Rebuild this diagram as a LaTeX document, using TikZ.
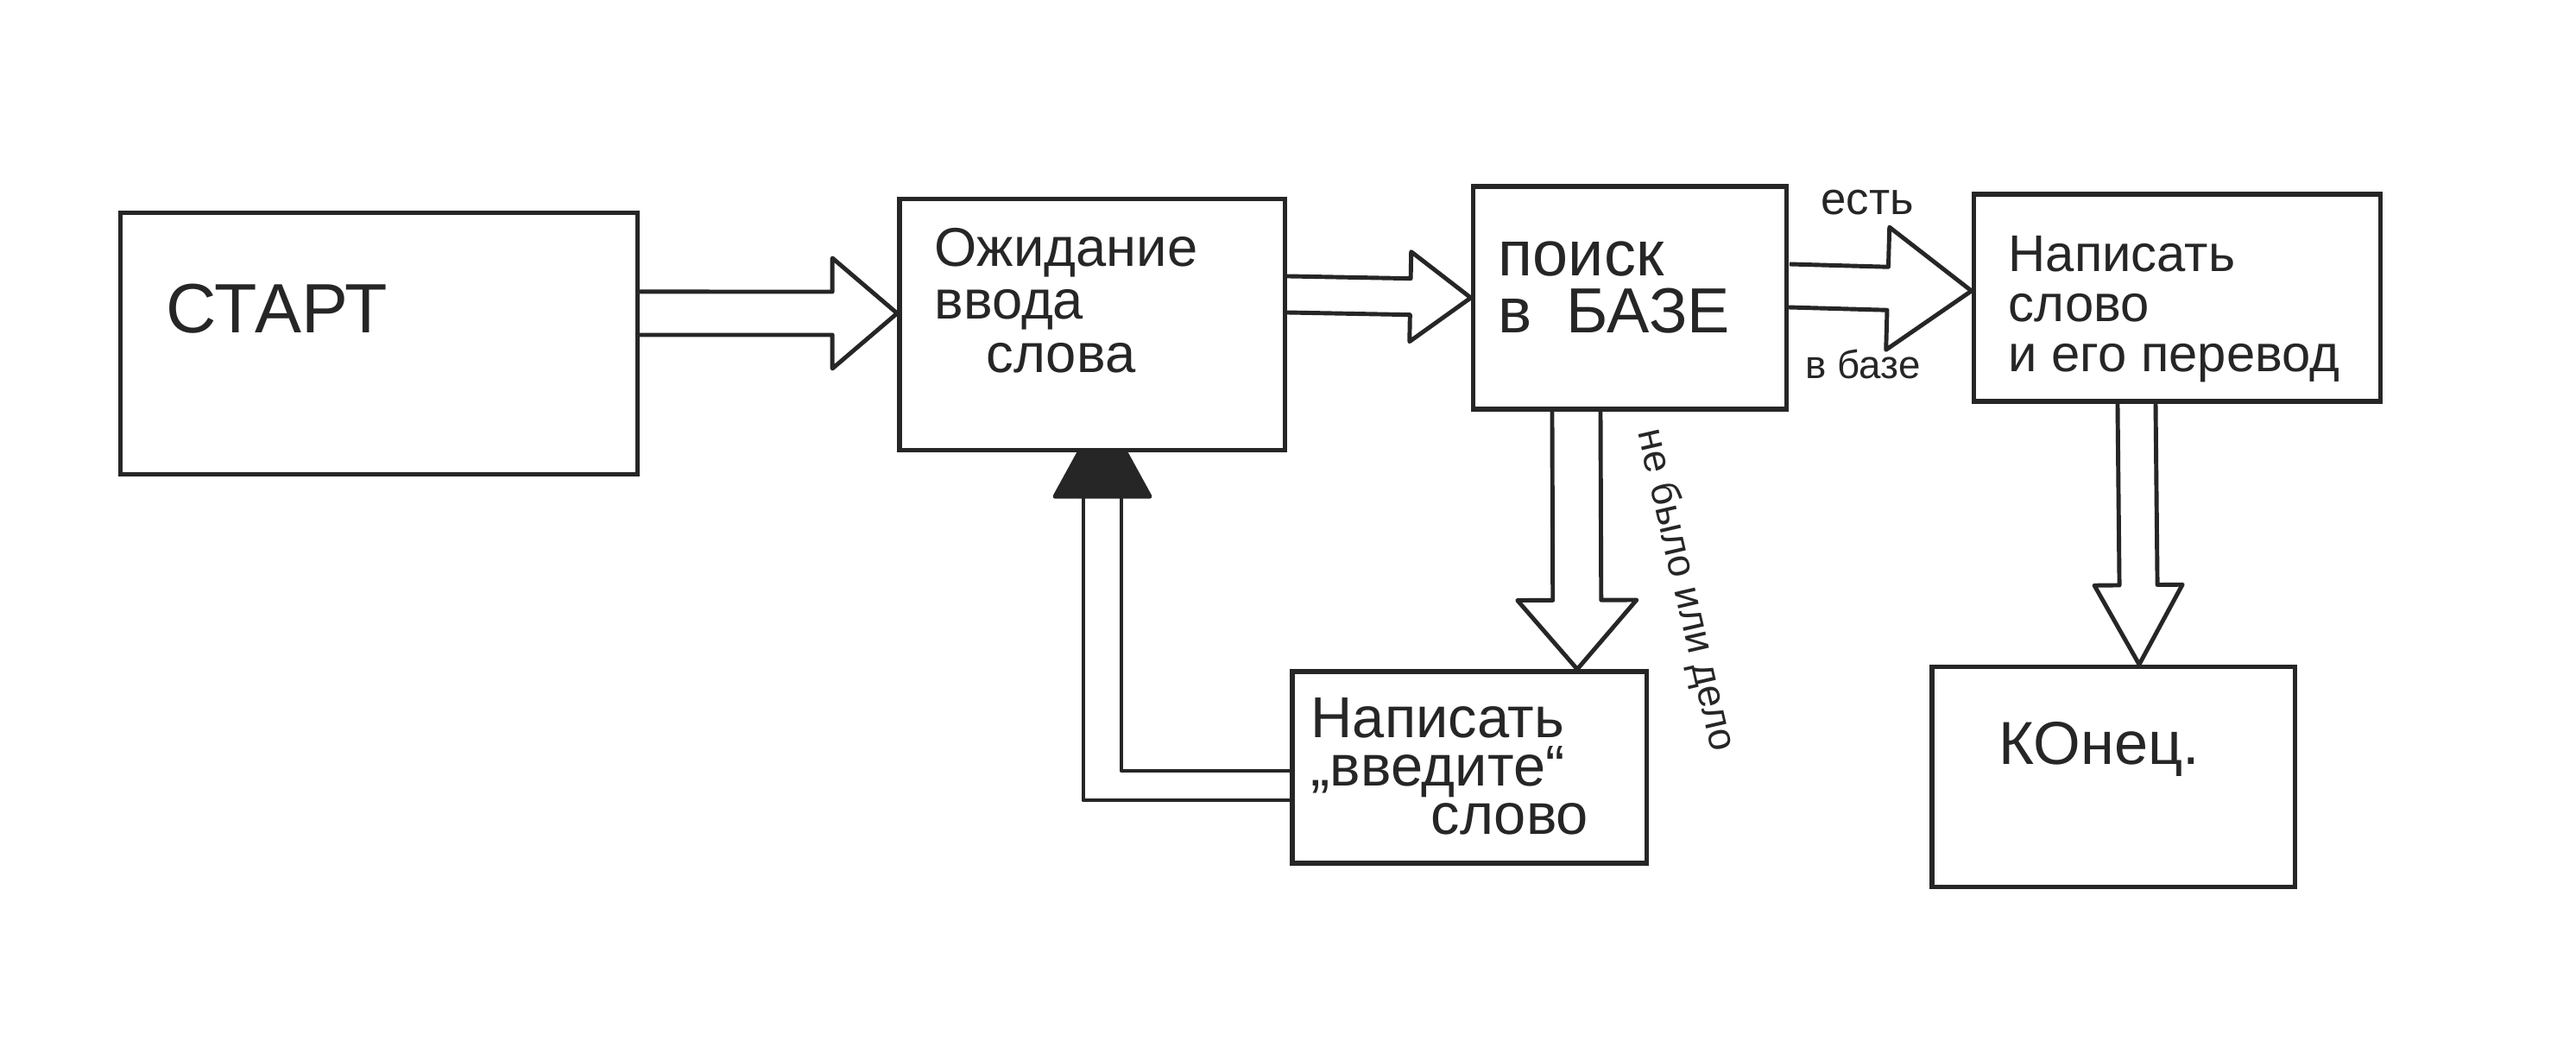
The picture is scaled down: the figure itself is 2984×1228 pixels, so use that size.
\documentclass[tikz,border=0pt]{standalone}
\usepackage{fontspec}
\setmainfont{Liberation Sans}
\usetikzlibrary{calc,positioning}
\definecolor{ink}{HTML}{262626}

% hollow block arrow: from, to, shaft half width, head half width, head length
\newcommand{\fatarrow}[5]{%
  \coordinate (fabase) at ($(#2)!#5!(#1)$);
  \draw[fatline] ($(#1)!#3!90:(#2)$) -- ($(fabase)!#3!-90:(#1)$) -- ($(fabase)!#4!-90:(#1)$) -- (#2)
    -- ($(fabase)!#4!90:(#1)$) -- ($(fabase)!#3!90:(#1)$) -- ($(#1)!#3!-90:(#2)$);
}

\begin{document}
\begin{tikzpicture}[x=0.01cm, y=-0.01cm,
    box/.style={draw=ink, line width=1.5pt, inner sep=0pt},
    hand/.style={text=ink, align=left, inner sep=0pt},
    fatline/.style={draw=ink, line width=1.4pt, line join=round}]
  \fill[white] (0,0) rectangle (2984,1228);
  \useasboundingbox (0,0) rectangle (2984,1228);

  % boxes
  \node[box, minimum width=5.98cm, minimum height=3.03cm] (start) at (439,398) {};
  \node[box, minimum width=4.46cm, minimum height=2.91cm] (wait) at (1265,376) {};
  \node[box, minimum width=3.63cm, minimum height=2.58cm] (search) at (1888,345) {};
  \node[box, minimum width=4.71cm, minimum height=2.40cm] (write) at (2522,345) {};
  \node[box, minimum width=4.10cm, minimum height=2.22cm] (retry) at (1702,889) {};
  \node[box, minimum width=4.20cm, minimum height=2.55cm] (end) at (2448,900) {};

  % texts
  \node[hand, font=\fontsize{23}{23}\selectfont] (starttxt) at (321,358) {СТАРТ};
  \node[hand, anchor=west, font=\fontsize{18}{17.5}\selectfont] (waittxt) at (1082,348)
    {Ожидание\\ввода\\\hspace*{0.6cm}слова};
  \node[hand, anchor=west, font=\fontsize{21}{19}\selectfont] (searchtxt) at (1735,333)
    {поиск\\в\hspace{0.4cm}БАЗЕ};
  \node[hand, anchor=west, font=\fontsize{17}{16.5}\selectfont] (writetxt) at (2326,358)
    {Написать\\слово\\и его перевод};
  \node[hand, anchor=west, font=\fontsize{19}{16}\selectfont] (retrytxt) at (1518,888)
    {Написать\\„введите“\\\hspace*{1.39cm}слово};
  \node[hand, font=\fontsize{20}{20}\selectfont] (endtxt) at (2432,868) {КОнец.};

  % connectors
  \coordinate (a1s) at ([yshift=0.35cm]start.east);
  \coordinate (a1e) at ([yshift=0.13cm]wait.west);
  \fatarrow{a1s}{a1e}{0.25cm}{0.64cm}{0.75cm}

  \coordinate (a2s) at ([yshift=0.35cm]wait.east);
  \fatarrow{a2s}{search.west}{0.21cm}{0.52cm}{0.70cm}

  \coordinate (a3s) at ([yshift=0.14cm]search.east);
  \coordinate (a3e) at ([yshift=0.08cm]write.west);
  \fatarrow{a3s}{a3e}{0.25cm}{0.71cm}{0.97cm}
  \node[hand, font=\fontsize{15}{15}\selectfont] (yes1) at (2163,235) {есть};
  \node[hand, font=\fontsize{13}{13}\selectfont] (yes2) at (2158,422) {в базе};

  \coordinate (a4s) at ([xshift=-0.62cm]search.south);
  \coordinate (a4e) at ([xshift=1.25cm]retry.north);
  \fatarrow{a4s}{a4e}{0.28cm}{0.69cm}{0.80cm}
  \node[hand, rotate=-77, font=\fontsize{13}{13}\selectfont] (nolbl) at (1952,684) {не было или дело};

  \coordinate (a5s) at ([xshift=-0.47cm]write.south);
  \coordinate (a5e) at ([xshift=0.30cm]end.north);
  \fatarrow{a5s}{a5e}{0.22cm}{0.51cm}{0.92cm}

  % back to waiting
  \coordinate (fbs) at ([yshift=-0.21cm]retry.west);
  \coordinate (fbe) at ([xshift=0.12cm]wait.south);
  \draw[fatline] ([yshift=0.17cm]fbs) -| ([xshift=0.22cm,yshift=-0.51cm]fbe);
  \draw[fatline] ([yshift=-0.17cm]fbs) -| ([xshift=-0.22cm,yshift=-0.51cm]fbe);
  \filldraw[fatline, fill=ink] ([xshift=-0.55cm,yshift=-0.51cm]fbe) -- ([xshift=-0.27cm]fbe)
    -- ([xshift=0.27cm]fbe) -- ([xshift=0.55cm,yshift=-0.51cm]fbe) -- cycle;
\end{tikzpicture}
\end{document}
